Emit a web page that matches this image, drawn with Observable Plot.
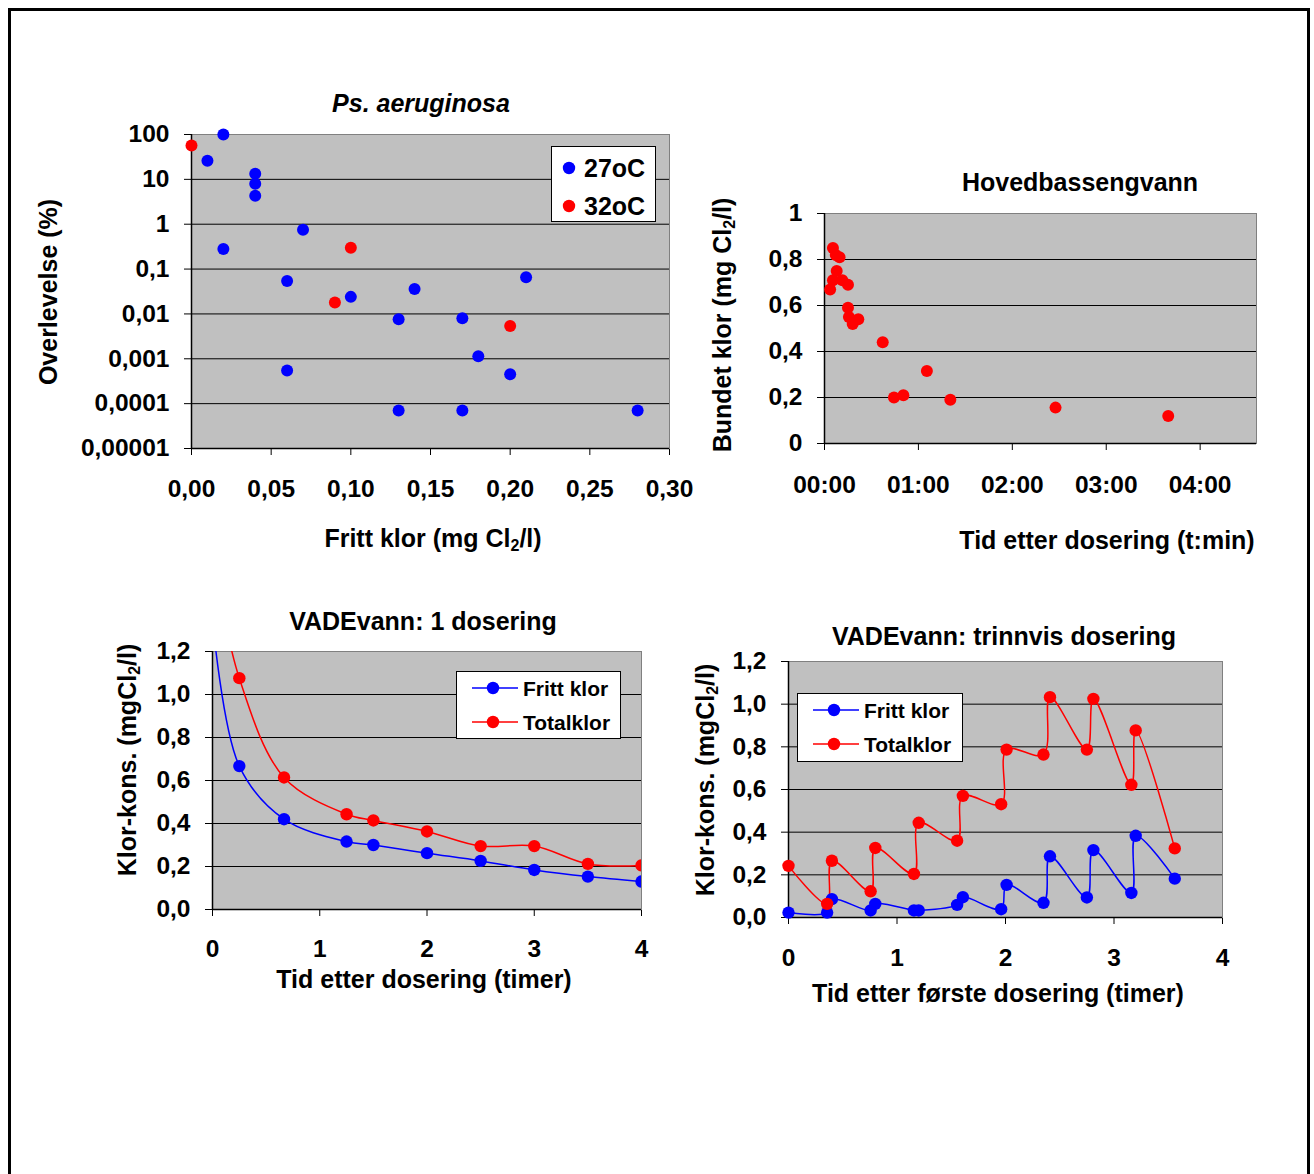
<!DOCTYPE html>
<html>
<head>
<meta charset="utf-8">
<script src="https://cdn.jsdelivr.net/npm/d3@7"></script>
<script src="https://cdn.jsdelivr.net/npm/@observablehq/plot@0.6"></script>
<style>
  html, body { margin: 0; padding: 0; background: #fff; }
  #root { position: relative; width: 1314px; height: 1174px; overflow: hidden;
          font-family: 'Liberation Sans', Arial, sans-serif; font-weight: bold; color: #000; }
  #border { position: absolute; left: 8px; top: 8px; width: 1302px; height: 1300px;
            border: 3px solid #000; box-sizing: border-box; }
  .t { position: absolute; font-size: 25px; line-height: 1; white-space: nowrap;
       transform: translate(-50%, -50%); }
  .rot { transform: translate(-50%, -50%) rotate(-90deg); }
  .t sub { font-size: 0.64em; vertical-align: baseline; position: relative; top: 0.28em; }
  .legend { position: absolute; background: #fff; border: 1px solid #000; box-sizing: border-box; }
  .legend .lt { position: absolute; line-height: 1; white-space: nowrap; transform: translateY(-50%); }
  .legend svg { position: absolute; left: 0; top: 0; overflow: visible; }
</style>
</head>
<body>
<div id="root"><div id="border"></div></div>
<script>
// ---------------- DATA ----------------
// Panel 1: Ps. aeruginosa – survival (%) vs free chlorine (mg Cl2/l)
const survX27 = [0.02, 0.01, 0.04, 0.04, 0.04, 0.02, 0.07, 0.06, 0.06, 0.10, 0.14, 0.13, 0.17, 0.18, 0.20, 0.21, 0.13, 0.17, 0.28];
const survY27 = [100, 26, 13.4, 8, 4.3, 0.28, 0.75, 0.054, 0.00055, 0.024, 0.036, 0.0076, 0.008, 0.00114, 0.00045, 0.066, 0.00007, 0.00007, 0.00007];
const survX32 = [0.00, 0.10, 0.09, 0.20];
const survY32 = [57, 0.3, 0.018, 0.0054];
const p1XTicks = [0, 0.05, 0.10, 0.15, 0.20, 0.25, 0.30];
const p1XLabels = ["0,00", "0,05", "0,10", "0,15", "0,20", "0,25", "0,30"];
const p1YTicks = [100, 10, 1, 0.1, 0.01, 0.001, 0.0001, 0.00001];
const p1YLabels = ["100", "10", "1", "0,1", "0,01", "0,001", "0,0001", "0,00001"];
const p1Series = ["27oC", "32oC"];

// Panel 2: Hovedbassengvann – combined chlorine vs time (hours)
const bundTime = [0.06, 0.09, 0.12, 0.16, 0.13, 0.09, 0.19, 0.25, 0.25, 0.26, 0.30, 0.36, 0.62, 0.74, 0.84, 1.09, 1.34, 2.46, 3.66];
const bundVal  = [0.67, 0.85, 0.82, 0.81, 0.75, 0.71, 0.71, 0.69, 0.59, 0.55, 0.52, 0.54, 0.44, 0.20, 0.21, 0.315, 0.19, 0.156, 0.12];
const p2XTicks = [0, 1, 2, 3, 4];
const p2XLabels = ["00:00", "01:00", "02:00", "03:00", "04:00"];
const p2YTicks = [0, 0.2, 0.4, 0.6, 0.8, 1];
const p2YLabels = ["0", "0,2", "0,4", "0,6", "0,8", "1"];

// Panel 3: VADEvann, 1 dosering
const d1Time   = [0, 0.25, 0.667, 1.25, 1.5, 2, 2.5, 3, 3.5, 4];
const d1Fritt  = [1.35, 0.667, 0.42, 0.316, 0.30, 0.262, 0.226, 0.184, 0.153, 0.13];
const d1Total  = [1.65, 1.076, 0.614, 0.443, 0.414, 0.363, 0.295, 0.295, 0.212, 0.205];

// Panel 4: VADEvann, trinnvis dosering
const d2Time  = [0, 0.356, 0.40, 0.757, 0.80, 1.156, 1.20, 1.554, 1.607, 1.96, 2.01, 2.35, 2.41, 2.75, 2.81, 3.16, 3.20, 3.56];
const d2Fritt = [0.023, 0.023, 0.086, 0.033, 0.064, 0.033, 0.033, 0.059, 0.095, 0.039, 0.153, 0.069, 0.287, 0.094, 0.316, 0.115, 0.383, 0.182];
const d2Total = [0.242, 0.064, 0.266, 0.123, 0.326, 0.204, 0.444, 0.36, 0.570, 0.531, 0.787, 0.764, 1.033, 0.787, 1.025, 0.622, 0.877, 0.324];

const timeTicks = [0, 1, 2, 3, 4];
const timeLabels = ["0", "1", "2", "3", "4"];
const konsTicks = [0, 0.2, 0.4, 0.6, 0.8, 1.0, 1.2];
const konsLabels = ["0,0", "0,2", "0,4", "0,6", "0,8", "1,0", "1,2"];
const lineSeries = ["Fritt klor", "Totalklor"];

const BLUE = "#0000ff", RED = "#ff0000", PLOTBG = "#c0c0c0", EDGE = "#808080";

// ---------------- HELPERS ----------------
const root = document.getElementById("root");
const fmt = (ticks, labels) => d => labels[ticks.indexOf(d)] ?? "";
const rows = (xs, ys) => xs.map((x, i) => ({x, y: ys[i]}));

function panel({fl, ft, fr, fb, x, y, marks}) {
  const mL = 130, mT = 14, mR = 16, mB = 70;
  const chart = Plot.plot({
    width: fr - fl + mL + mR,
    height: fb - ft + mT + mB,
    marginLeft: mL, marginTop: mT, marginRight: mR, marginBottom: mB,
    style: {fontFamily: "'Liberation Sans', Arial, sans-serif", fontSize: "24.5px",
            fontWeight: "bold", color: "#000", background: "transparent", overflow: "visible"},
    x, y, marks
  });
  chart.style.position = "absolute";
  chart.style.left = (fl - mL) + "px";
  chart.style.top = (ft - mT) + "px";
  root.appendChild(chart);
}

function text(html, cx, cy, rot = false, extra = "") {
  const d = document.createElement("div");
  d.className = "t" + (rot ? " rot" : "");
  d.style.left = cx + "px"; d.style.top = cy + "px";
  if (extra) d.style.cssText += extra;
  d.innerHTML = html;
  root.appendChild(d);
}

function legend({left, top, w, h, items, fontSize, lineMarker}) {
  const box = document.createElement("div");
  box.className = "legend";
  Object.assign(box.style, {left: left + "px", top: top + "px", width: w + "px", height: h + "px"});
  let svg = `<svg width="${w}" height="${h}">`;
  for (const it of items) {
    if (lineMarker) svg += `<line x1="${it.lx1}" x2="${it.lx2}" y1="${it.cy}" y2="${it.cy}" stroke="${it.color}" stroke-width="1.5"/>`;
    svg += `<circle cx="${it.cx}" cy="${it.cy}" r="6.2" fill="${it.color}"/>`;
  }
  svg += `</svg>`;
  box.innerHTML = svg;
  for (const it of items) {
    const t = document.createElement("div");
    t.className = "lt";
    Object.assign(t.style, {left: it.tx + "px", top: it.cy + "px", fontSize: fontSize + "px"});
    t.textContent = it.label;
    box.appendChild(t);
  }
  root.appendChild(box);
}

// ---------------- PANEL 1 ----------------
panel({
  fl: 191, ft: 134, fr: 669, fb: 448,
  x: {domain: [0, 0.30], ticks: p1XTicks, tickFormat: fmt(p1XTicks, p1XLabels), tickSize: 7, tickPadding: 24, label: null},
  y: {type: "log", domain: [0.00001, 100], ticks: p1YTicks, tickFormat: fmt(p1YTicks, p1YLabels), tickSize: 7, tickPadding: 15, label: null},
  marks: [
    Plot.frame({fill: PLOTBG, stroke: EDGE}),
    Plot.ruleY(p1YTicks.slice(1, -1), {stroke: "#000", strokeWidth: 1}),
    Plot.ruleX([0], {stroke: "#000", strokeWidth: 1.5}),
    Plot.ruleY([0.00001], {stroke: "#000", strokeWidth: 1.5}),
    Plot.dot(rows(survX27, survY27), {x: "x", y: "y", r: 6, fill: BLUE}),
    Plot.dot(rows(survX32, survY32), {x: "x", y: "y", r: 6, fill: RED})
  ]
});
text("<i>Ps. aeruginosa</i>", 421, 103);
text("Fritt klor (mg Cl<sub>2</sub>/l)", 433, 538);
text("Overlevelse (%)", 48, 292, true);
legend({left: 551, top: 146, w: 105, h: 76, fontSize: 25, lineMarker: false,
  items: [
    {label: p1Series[0], color: BLUE, cx: 17, cy: 21, tx: 32},
    {label: p1Series[1], color: RED, cx: 17, cy: 59, tx: 32}
  ]});

// ---------------- PANEL 2 ----------------
panel({
  fl: 824, ft: 213, fr: 1256, fb: 443,
  x: {domain: [0, 4.6], ticks: p2XTicks, tickFormat: fmt(p2XTicks, p2XLabels), tickSize: 7, tickPadding: 25, label: null},
  y: {domain: [0, 1], ticks: p2YTicks, tickFormat: fmt(p2YTicks, p2YLabels), tickSize: 7, tickPadding: 15, label: null},
  marks: [
    Plot.frame({fill: PLOTBG, stroke: EDGE}),
    Plot.ruleY(p2YTicks.slice(1, -1), {stroke: "#000", strokeWidth: 1}),
    Plot.ruleX([0], {stroke: "#000", strokeWidth: 1.5}),
    Plot.ruleY([0], {stroke: "#000", strokeWidth: 1.5}),
    Plot.dot(rows(bundTime, bundVal), {x: "x", y: "y", r: 6, fill: RED})
  ]
});
text("Hovedbassengvann", 1080, 182);
text("Tid etter dosering (t:min)", 1107, 540);
text("Bundet klor (mg Cl<sub>2</sub>/l)", 722, 325, true);

// ---------------- PANEL 3 ----------------
panel({
  fl: 212, ft: 651, fr: 641, fb: 909,
  x: {domain: [0, 4], ticks: timeTicks, tickFormat: fmt(timeTicks, timeLabels), tickSize: 7, tickPadding: 23, label: null},
  y: {domain: [0, 1.2], ticks: konsTicks, tickFormat: fmt(konsTicks, konsLabels), tickSize: 7, tickPadding: 15, label: null},
  marks: [
    Plot.frame({fill: PLOTBG, stroke: EDGE}),
    Plot.ruleY(konsTicks.slice(1, -1), {stroke: "#000", strokeWidth: 1}),
    Plot.ruleX([0], {stroke: "#000", strokeWidth: 1.5}),
    Plot.ruleY([0], {stroke: "#000", strokeWidth: 1.5}),
    Plot.line(rows(d1Time, d1Fritt), {x: "x", y: "y", stroke: BLUE, strokeWidth: 1.5, curve: "catmull-rom", clip: true}),
    Plot.line(rows(d1Time, d1Total), {x: "x", y: "y", stroke: RED, strokeWidth: 1.5, curve: "catmull-rom", clip: true}),
    Plot.dot(rows(d1Time, d1Fritt), {x: "x", y: "y", r: 6.2, fill: BLUE, clip: true}),
    Plot.dot(rows(d1Time, d1Total), {x: "x", y: "y", r: 6.2, fill: RED, clip: true})
  ]
});
text("VADEvann: 1 dosering", 423, 621);
text("Tid etter dosering (timer)", 424, 979);
text("Klor-kons. (mgCl<sub>2</sub>/l)", 127, 760, true);
legend({left: 456, top: 671, w: 165, h: 68, fontSize: 21, lineMarker: true,
  items: [
    {label: lineSeries[0], color: BLUE, lx1: 15, lx2: 61, cx: 36, cy: 16, tx: 66},
    {label: lineSeries[1], color: RED, lx1: 15, lx2: 61, cx: 36, cy: 50, tx: 66}
  ]});

// ---------------- PANEL 4 ----------------
panel({
  fl: 788, ft: 661, fr: 1222, fb: 917,
  x: {domain: [0, 4], ticks: timeTicks, tickFormat: fmt(timeTicks, timeLabels), tickSize: 7, tickPadding: 24, label: null},
  y: {domain: [0, 1.2], ticks: konsTicks, tickFormat: fmt(konsTicks, konsLabels), tickSize: 7, tickPadding: 15, label: null},
  marks: [
    Plot.frame({fill: PLOTBG, stroke: EDGE}),
    Plot.ruleY(konsTicks.slice(1, -1), {stroke: "#000", strokeWidth: 1}),
    Plot.ruleX([0], {stroke: "#000", strokeWidth: 1.5}),
    Plot.ruleY([0], {stroke: "#000", strokeWidth: 1.5}),
    Plot.line(rows(d2Time, d2Fritt), {x: "x", y: "y", stroke: BLUE, strokeWidth: 1.5, curve: "catmull-rom"}),
    Plot.line(rows(d2Time, d2Total), {x: "x", y: "y", stroke: RED, strokeWidth: 1.5, curve: "catmull-rom"}),
    Plot.dot(rows(d2Time, d2Fritt), {x: "x", y: "y", r: 6.2, fill: BLUE}),
    Plot.dot(rows(d2Time, d2Total), {x: "x", y: "y", r: 6.2, fill: RED})
  ]
});
text("VADEvann: trinnvis dosering", 1004, 636);
text("Tid etter første dosering (timer)", 998, 993);
text("Klor-kons. (mgCl<sub>2</sub>/l)", 705, 780, true);
legend({left: 797, top: 693, w: 166, h: 69, fontSize: 21, lineMarker: true,
  items: [
    {label: lineSeries[0], color: BLUE, lx1: 15, lx2: 61, cx: 36, cy: 16, tx: 66},
    {label: lineSeries[1], color: RED, lx1: 15, lx2: 61, cx: 36, cy: 50, tx: 66}
  ]});
</script>
</body>
</html>
